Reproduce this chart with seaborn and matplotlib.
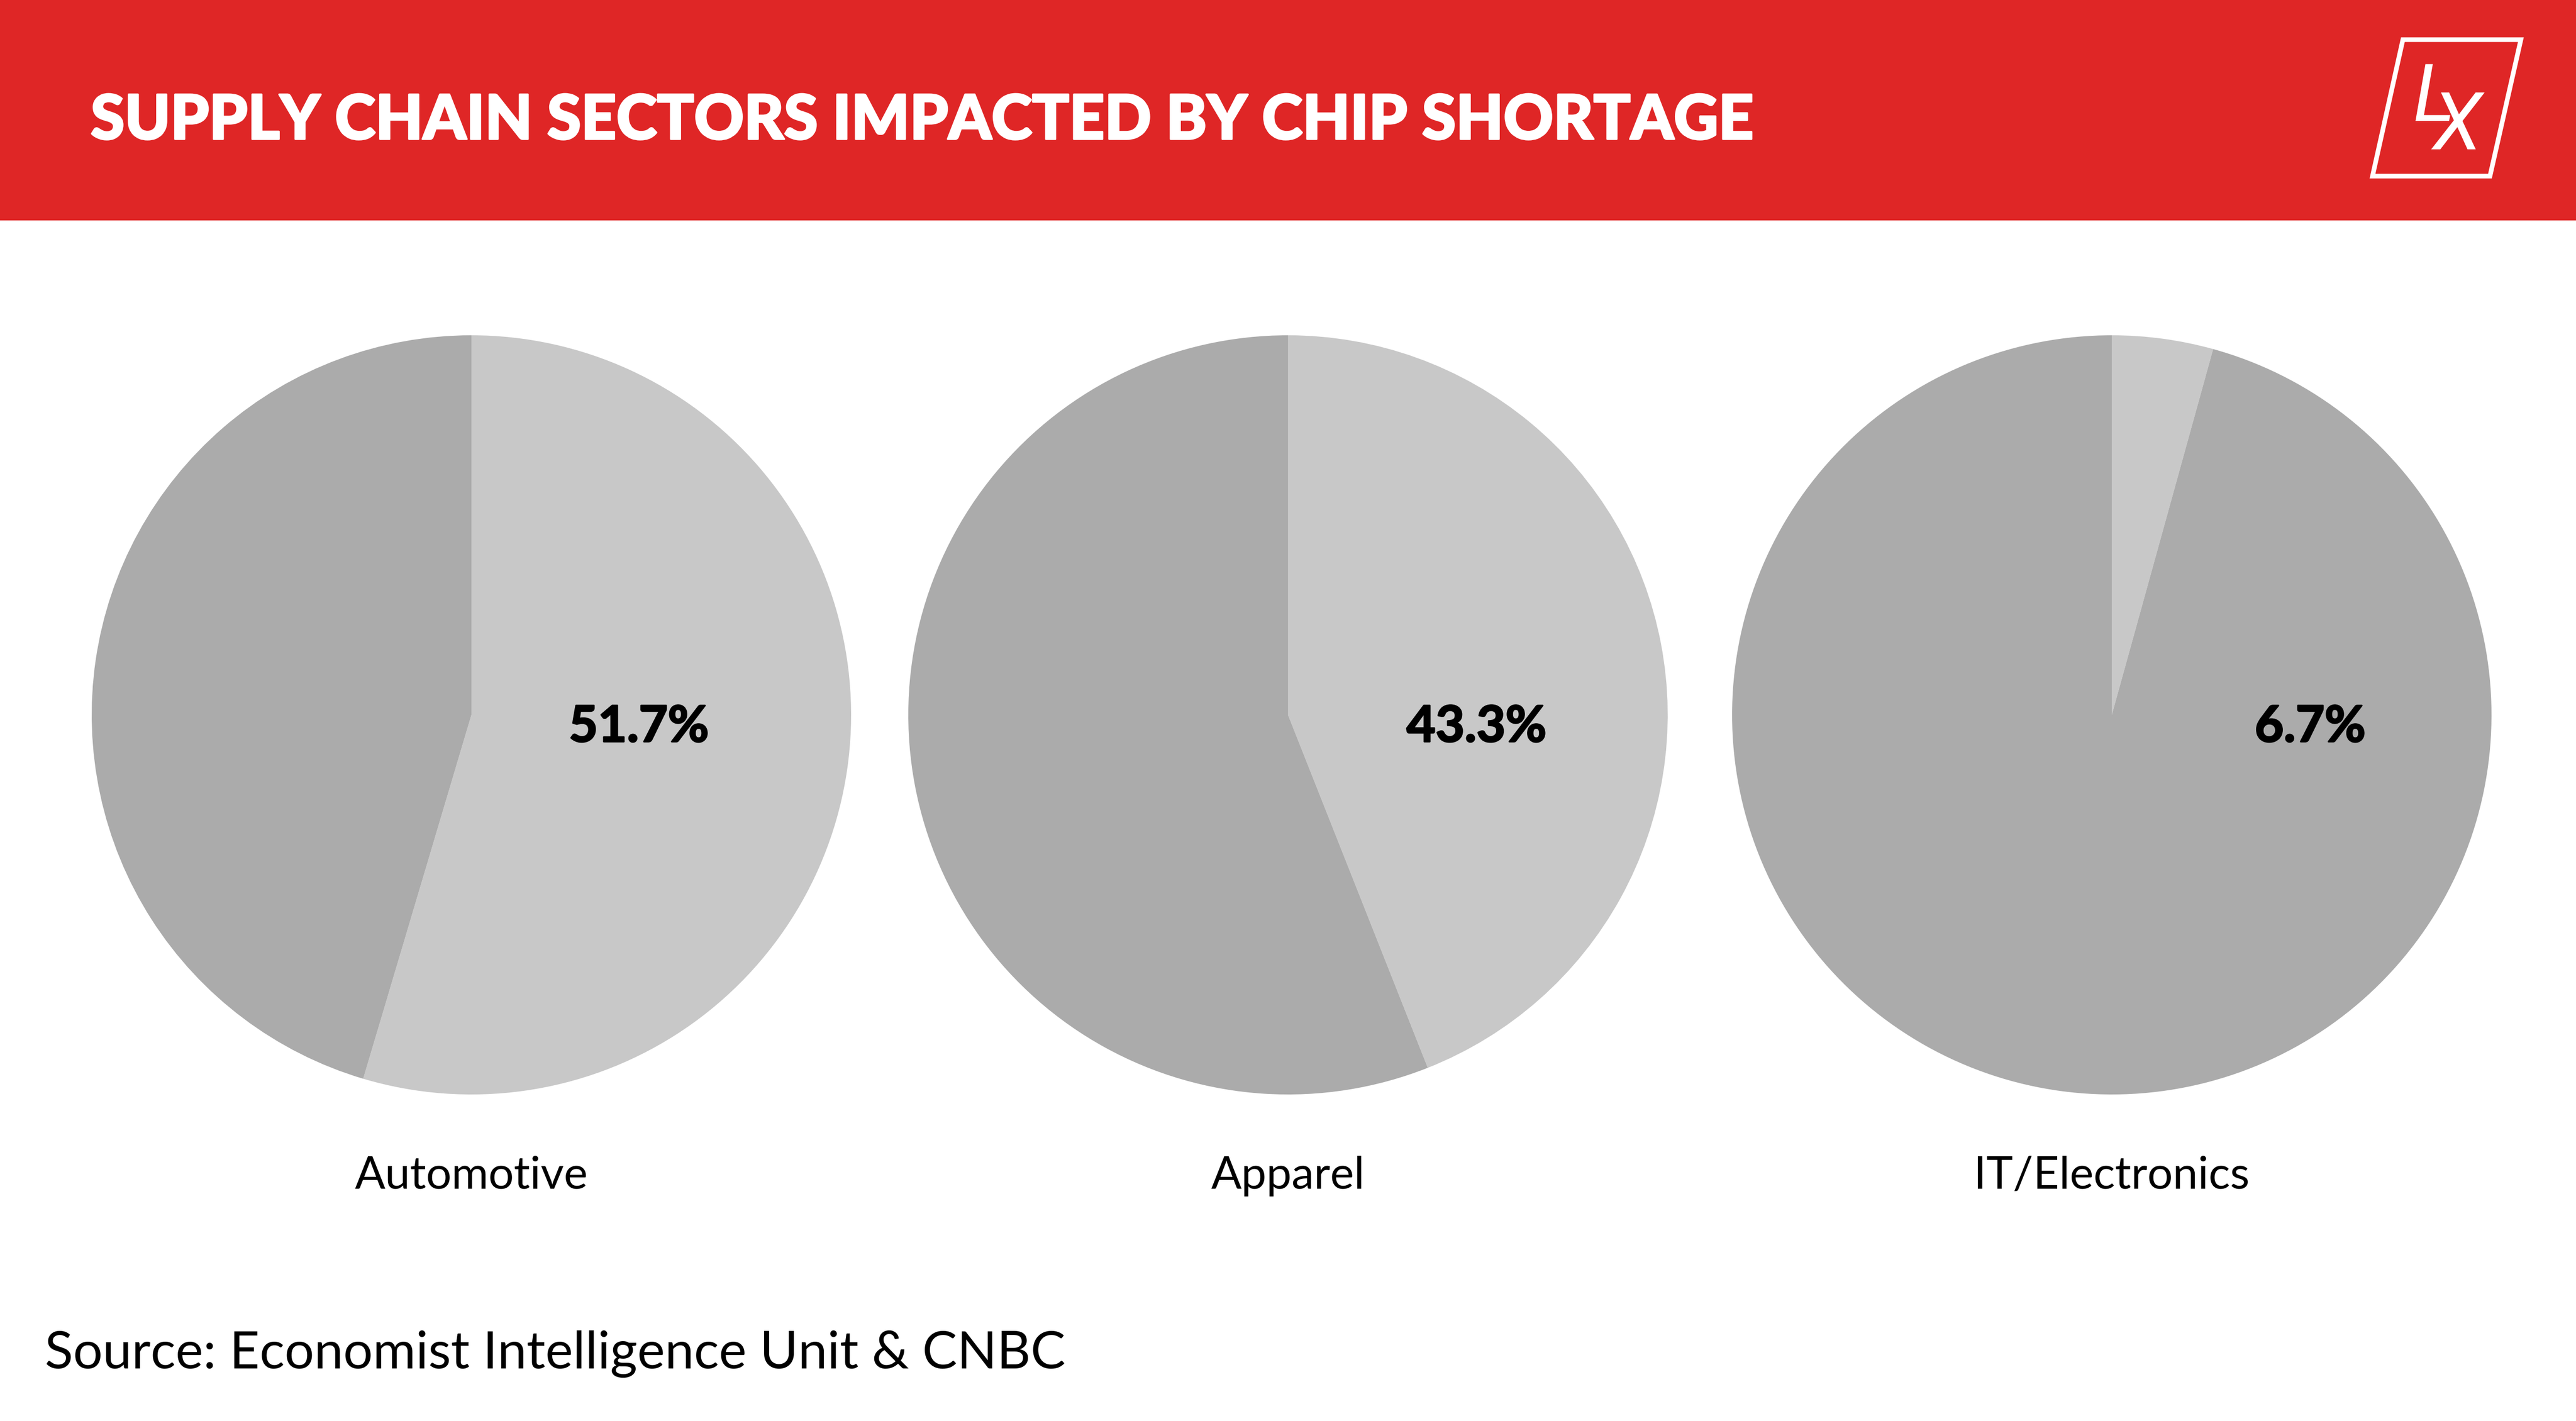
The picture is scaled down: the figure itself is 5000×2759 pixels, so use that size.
import matplotlib
matplotlib.use("Agg")
import matplotlib.pyplot as plt
import matplotlib.patheffects as pe
import seaborn as sns
from matplotlib.patches import Rectangle, Polygon

# ---- data ----
categories = ["Automotive", "Apparel", "IT/Electronics"]
pct_labels = [51.7, 43.3, 6.7]          # printed values
slice_share = [54.6, 44.0, 4.3]         # light wedge share as drawn in the picture
title = "SUPPLY CHAIN SECTORS IMPACTED BY CHIP SHORTAGE"
source = "Source: Economist Intelligence Unit & CNBC"

sns.set_theme(style="white")
plt.rcParams['font.family'] = ['Lato', 'DejaVu Sans']

W, H = 5000, 2759
DPI = 100
fig = plt.figure(figsize=(W / DPI, H / DPI), dpi=DPI, facecolor='white')


def fx(px):
    return px / W


def fy(py):
    return 1 - py / H


RED = '#df2626'
pal = sns.color_palette(['#c8c8c8', '#ababab'])

# header band
fig.patches.append(Rectangle((0, fy(428)), 1, 428 / H, transform=fig.transFigure,
                             facecolor=RED, edgecolor='none', zorder=0))

# pies
centers = [915, 2500, 4099]
cy = 1388
R = 737
pct_x = [1240, 2866, 4484]
for cx, share in zip(centers, slice_share):
    ax = fig.add_axes([fx(cx - R), fy(cy + R), 2 * R / W, 2 * R / H])
    ax.pie([share, 100 - share], colors=pal, startangle=90, counterclock=False,
           radius=1, wedgeprops=dict(linewidth=0))
    ax.set_xlim(-1, 1)
    ax.set_ylim(-1, 1)
    ax.set_aspect('equal')
    ax.axis('off')

renderer = fig.canvas.get_renderer()


def fit(t, target):
    w = t.get_window_extent(renderer).width
    t.set_fontsize(t.get_fontsize() * target / w)
    return t.get_fontsize()


# title
tt = fig.text(fx(176), fy(270), title, color='white', fontsize=60, fontweight='black',
              ha='left', va='baseline')
fit(tt, 3230)
tt.set_path_effects([pe.withStroke(linewidth=2.6, foreground='white')])

# percentage labels
pts = []
for x, v in zip(pct_x, pct_labels):
    pts.append(fig.text(fx(x), fy(1440), f"{v:.1f}%", color='black', fontsize=60,
                        fontweight='bold', ha='center', va='baseline'))
s = fit(pts[0], 272)
for t in pts:
    t.set_fontsize(s)
    t.set_path_effects([pe.withStroke(linewidth=2.2, foreground='black')])

# category labels
cts = []
for cx, c in zip(centers, categories):
    cts.append(fig.text(fx(cx), fy(2308), c, color='black', fontsize=40,
                        ha='center', va='baseline'))
s = fit(cts[0], 453)
for t in cts:
    t.set_fontsize(s)

# source
st = fig.text(fx(87), fy(2657), source, color='black', fontsize=40, ha='left', va='baseline')
fit(st, 1982)

# logo: frame + staggered "L" / "X" as one text block
fig.patches.append(Polygon([(fx(4664), fy(77)), (fx(4893), fy(77)), (fx(4833), fy(342)),
                            (fx(4605), fy(342))], closed=True, fill=False, edgecolor='white',
                           linewidth=6.5, transform=fig.transFigure, zorder=2))
lx = fig.text(fx(4684), fy(176), "L\n X", color='white', fontsize=112, style='italic',
              family=['Roboto', 'DejaVu Sans'], ha='left', va='top', linespacing=0.19,
              multialignment='left')
# shift block so the top of the "L" cap sits at y=120 px and the block bottom near y=290
bb = lx.get_window_extent(renderer)
# bb in display coords (origin bottom-left); desired bottom of "X" baseline ~ y=289 from top
cur_bottom_from_top = H - bb.y0
# bbox bottom includes descent of last line (~0.21 em)
desc = 0.21 * 112 * DPI / 72
shift = 289 + desc - cur_bottom_from_top
lx.set_y(fy(176 + shift))

fig.savefig("out.png", dpi=DPI, facecolor='white')
